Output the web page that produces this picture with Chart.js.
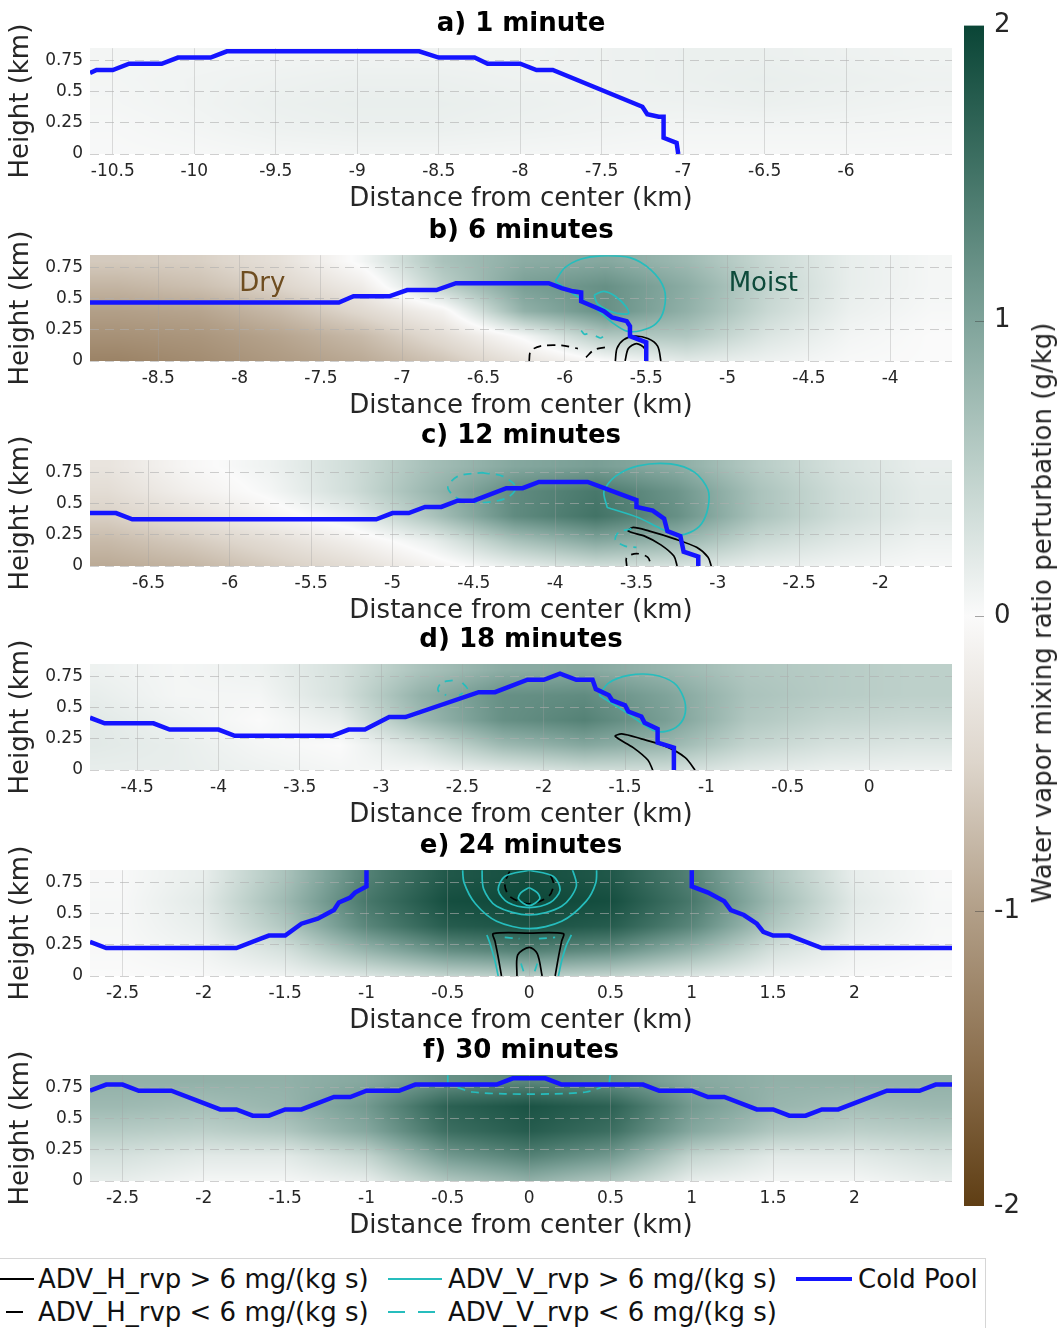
<!DOCTYPE html>
<html><head><meta charset="utf-8">
<script src="https://cdn.jsdelivr.net/npm/chart.js@4/dist/chart.umd.min.js"></script>
<style>
body{margin:0;background:#fff;width:1059px;height:1328px;overflow:hidden;position:relative;font-family:"DejaVu Sans";}
canvas{position:absolute;}
#cbtitle{position:absolute;left:1042px;top:613px;transform:translate(-50%,-50%) rotate(-90deg);white-space:nowrap;font-size:26px;color:#262626;}
#legend{position:absolute;left:-30px;top:1258px;width:1014px;height:90px;border:1px solid #d6d6d6;background:#fff;}
.it{position:absolute;font-size:26px;white-space:nowrap;line-height:30px;color:#111;}
.ln{position:absolute;}
</style></head>
<body>
<canvas id="p0"></canvas><canvas id="p1"></canvas><canvas id="p2"></canvas>
<canvas id="p3"></canvas><canvas id="p4"></canvas><canvas id="p5"></canvas>
<canvas id="cb"></canvas>
<div id="cbtitle">Water vapor mixing ratio perturbation (g/kg)</div>
<div id="legend">
  <svg class="ln" style="left:9px;top:5px" width="54" height="30"><line x1="0" y1="15" x2="54" y2="15" stroke="#000" stroke-width="2"/></svg>
  <div class="it" style="left:67px;top:5px">ADV_H_rvp &gt; 6 mg/(kg s)</div>
  <svg class="ln" style="left:417px;top:5px" width="54" height="30"><line x1="0" y1="15" x2="54" y2="15" stroke="#26bdbd" stroke-width="2"/></svg>
  <div class="it" style="left:477px;top:5px">ADV_V_rvp &gt; 6 mg/(kg s)</div>
  <svg class="ln" style="left:825px;top:5px" width="56" height="30"><line x1="0" y1="15" x2="56" y2="15" stroke="#1414ff" stroke-width="4"/></svg>
  <div class="it" style="left:887px;top:5px">Cold Pool</div>
  <svg class="ln" style="left:5px;top:38px" width="54" height="30"><line x1="0" y1="15" x2="54" y2="15" stroke="#000" stroke-width="2" stroke-dasharray="17,13"/></svg>
  <div class="it" style="left:67px;top:38px">ADV_H_rvp &lt; 6 mg/(kg s)</div>
  <svg class="ln" style="left:417px;top:38px" width="54" height="30"><line x1="0" y1="15" x2="54" y2="15" stroke="#26bdbd" stroke-width="2" stroke-dasharray="17,13"/></svg>
  <div class="it" style="left:477px;top:38px">ADV_V_rvp &lt; 6 mg/(kg s)</div>
</div>
<script>
// ---------------- DATA ----------------
const panelTitles = ['a) 1 minute','b) 6 minutes','c) 12 minutes','d) 18 minutes','e) 24 minutes','f) 30 minutes'];
const xTitle = 'Distance from center (km)';
const yTitle = 'Height (km)';
const cbTitleText = 'Water vapor mixing ratio perturbation (g/kg)';

const xRangeA = [-10.64, -5.35];
const xRangeB = [-8.92, -3.62];
const xRangeC = [-6.86, -1.56];
const xRangeD = [-4.79, 0.51];
const xRangeE = [-2.70, 2.60];
const xRangeF = [-2.70, 2.60];
const yRange = [0, 0.85];

const xTicksA = [-10.5,-10,-9.5,-9,-8.5,-8,-7.5,-7,-6.5,-6];
const xTicksB = [-8.5,-8,-7.5,-7,-6.5,-6,-5.5,-5,-4.5,-4];
const xTicksC = [-6.5,-6,-5.5,-5,-4.5,-4,-3.5,-3,-2.5,-2];
const xTicksD = [-4.5,-4,-3.5,-3,-2.5,-2,-1.5,-1,-0.5,0];
const xTicksE = [-2.5,-2,-1.5,-1,-0.5,0,0.5,1,1.5,2];
const xTicksF = [-2.5,-2,-1.5,-1,-0.5,0,0.5,1,1.5,2];
const yTicks = [0,0.25,0.5,0.75];
const cbTicks = [-2,-1,0,1,2];

// colormap of water vapor perturbation (g/kg)
const cmapValues = [-2,-1.5,-1,-0.5,0,0.5,1,1.5,2];
const cmapColors = ['#5f3e14','#8c704f','#b29f88','#ddd5cb','#fafafa','#bdd0ca','#7fa39a','#427366','#0a4536'];

// heat-map grids: heights (rows, top to bottom) and distances (columns)
const heatZ = [0.8,0.6,0.4,0.2,0.0];
const heatXA = [-10.5,-10,-9.5,-9,-8.5,-8,-7.5,-7,-6.5,-6,-5.5];
const heatXB = [-8.75,-8.25,-7.75,-7.25,-6.75,-6.25,-5.75,-5.25,-4.75,-4.25,-3.75];
const heatXC = [-6.75,-6.25,-5.75,-5.25,-4.75,-4.25,-3.75,-3.25,-2.75,-2.25,-1.75];
const heatXD = [-4.75,-4.25,-3.75,-3.25,-2.75,-2.25,-1.75,-1.25,-0.75,-0.25,0.25];
const heatXE = [-2.5,-2,-1.5,-1,-0.5,0,0.5,1,1.5,2,2.5];
const heatXF = [-2.5,-2,-1.5,-1,-0.5,0,0.5,1,1.5,2,2.5];

const heatA = [
  [0.06,0.06,0.07,0.08,0.08,0.08,0.10,0.12,0.12,0.10,0.08],
  [0.06,0.08,0.10,0.12,0.12,0.10,0.10,0.12,0.14,0.12,0.10],
  [0.05,0.08,0.12,0.14,0.14,0.12,0.10,0.10,0.12,0.10,0.08],
  [0.03,0.06,0.10,0.12,0.12,0.10,0.08,0.06,0.06,0.06,0.05],
  [0.02,0.03,0.05,0.06,0.06,0.05,0.04,0.03,0.03,0.03,0.03]
];
const heatB = [
  [-0.6,-0.55,-0.35,0.05,0.65,0.9,0.95,0.75,0.4,0.15,0.05],
  [-0.8,-0.7,-0.5,-0.2,0.5,1.05,1.2,0.9,0.45,0.15,0.05],
  [-1.0,-0.95,-0.75,-0.45,-0.1,0.85,1.2,0.85,0.4,0.12,0.03],
  [-1.15,-1.1,-0.95,-0.75,-0.4,0.05,0.6,0.6,0.25,0.06,0.0],
  [-1.3,-1.2,-1.05,-0.9,-0.65,-0.3,0.0,0.2,0.1,0.02,0.0]
];
const heatC = [
  [-0.3,-0.05,0.1,0.35,0.7,0.95,1.05,0.9,0.55,0.3,0.15],
  [-0.4,-0.15,0.05,0.35,0.8,1.25,1.45,1.15,0.65,0.35,0.18],
  [-0.55,-0.35,-0.1,0.15,0.65,1.25,1.5,1.2,0.65,0.35,0.18],
  [-0.75,-0.6,-0.4,-0.15,0.15,0.65,0.95,0.8,0.4,0.22,0.1],
  [-0.9,-0.8,-0.6,-0.4,-0.1,0.15,0.35,0.3,0.15,0.08,0.03]
];
const heatD = [
  [0.1,0.05,0.1,0.3,0.65,0.9,0.95,0.8,0.6,0.55,0.5],
  [0.15,0.05,0.05,0.3,0.85,1.2,1.25,1.0,0.65,0.55,0.5],
  [0.2,0.1,0.0,0.15,0.75,1.2,1.35,1.05,0.6,0.45,0.4],
  [0.2,0.15,0.05,0.0,0.3,0.75,0.95,0.8,0.45,0.3,0.25],
  [0.15,0.15,0.1,0.05,0.05,0.2,0.35,0.35,0.2,0.12,0.1]
];
const heatE = [
  [0.02,0.15,0.65,1.35,1.8,1.9,1.8,1.35,0.65,0.15,0.02],
  [0.03,0.2,0.75,1.45,1.9,1.97,1.9,1.45,0.75,0.2,0.03],
  [0.03,0.15,0.6,1.3,1.75,1.85,1.75,1.3,0.6,0.15,0.03],
  [0.02,0.08,0.3,0.8,1.2,1.35,1.2,0.8,0.3,0.08,0.02],
  [0.0,0.02,0.08,0.25,0.45,0.55,0.45,0.25,0.08,0.02,0.0]
];
const heatF = [
  [0.85,0.85,0.85,0.95,1.2,1.3,1.2,0.95,0.85,0.85,0.85],
  [0.75,0.7,0.8,1.1,1.7,1.85,1.7,1.1,0.8,0.7,0.75],
  [0.55,0.5,0.6,0.95,1.55,1.75,1.55,0.95,0.6,0.5,0.55],
  [0.3,0.2,0.2,0.45,1.1,1.35,1.1,0.45,0.2,0.2,0.3],
  [0.15,0.05,0.05,0.15,0.6,0.85,0.6,0.15,0.05,0.05,0.15]
];

// cold pool boundary [distance km, height km]
const coldA = [[-10.64,0.65],[-10.6,0.675],[-10.5,0.675],[-10.4,0.725],[-10.2,0.725],[-10.1,0.775],[-9.9,0.775],[-9.8,0.825],[-8.62,0.825],[-8.5,0.775],[-8.28,0.775],[-8.2,0.725],[-8.0,0.725],[-7.9,0.675],[-7.8,0.675],[-7.25,0.38],[-7.22,0.32],[-7.15,0.3],[-7.12,0.3],[-7.12,0.13],[-7.04,0.09],[-7.03,0]];
const coldB = [[-8.92,0.47],[-7.39,0.47],[-7.3,0.52],[-7.08,0.52],[-6.97,0.57],[-6.79,0.57],[-6.67,0.625],[-6.1,0.625],[-6.02,0.585],[-5.95,0.56],[-5.9,0.55],[-5.9,0.48],[-5.81,0.43],[-5.76,0.4],[-5.71,0.35],[-5.62,0.32],[-5.6,0.28],[-5.6,0.2],[-5.5,0.15],[-5.5,0]];
const coldC = [[-6.86,0.425],[-6.7,0.425],[-6.6,0.375],[-5.1,0.375],[-5.0,0.425],[-4.9,0.425],[-4.8,0.475],[-4.7,0.475],[-4.6,0.525],[-4.5,0.525],[-4.3,0.625],[-4.2,0.625],[-4.1,0.675],[-3.8,0.675],[-3.5,0.53],[-3.5,0.475],[-3.4,0.445],[-3.33,0.38],[-3.31,0.28],[-3.23,0.24],[-3.21,0.115],[-3.12,0.075],[-3.12,0]];
const coldD = [[-4.79,0.42],[-4.7,0.375],[-4.4,0.375],[-4.3,0.325],[-4.0,0.325],[-3.9,0.275],[-3.3,0.275],[-3.2,0.325],[-3.1,0.325],[-2.95,0.425],[-2.85,0.425],[-2.4,0.625],[-2.3,0.625],[-2.1,0.725],[-2.0,0.725],[-1.9,0.775],[-1.8,0.725],[-1.7,0.725],[-1.68,0.65],[-1.6,0.6],[-1.58,0.56],[-1.5,0.52],[-1.48,0.47],[-1.4,0.43],[-1.38,0.38],[-1.3,0.33],[-1.3,0.22],[-1.2,0.18],[-1.2,0]];
const coldELeft = [[-2.7,0.275],[-2.6,0.225],[-1.8,0.225],[-1.65,0.3],[-1.6,0.325],[-1.5,0.325],[-1.4,0.42],[-1.3,0.46],[-1.2,0.53],[-1.17,0.59],[-1.1,0.63],[-1.07,0.67],[-1.0,0.72],[-1.0,0.9]];
const coldERight = [[1.0,0.9],[1.0,0.72],[1.1,0.67],[1.2,0.6],[1.24,0.53],[1.32,0.49],[1.4,0.42],[1.44,0.355],[1.5,0.325],[1.6,0.325],[1.8,0.225],[2.6,0.225]];
const coldF = [[-2.7,0.725],[-2.6,0.775],[-2.5,0.775],[-2.4,0.725],[-2.2,0.725],[-1.9,0.575],[-1.8,0.575],[-1.7,0.525],[-1.6,0.525],[-1.5,0.575],[-1.4,0.575],[-1.2,0.675],[-1.1,0.675],[-1.0,0.725],[-0.8,0.725],[-0.7,0.775],[-0.2,0.775],[-0.1,0.825],[0.1,0.825],[0.2,0.775],[0.7,0.775],[0.8,0.725],[1.0,0.725],[1.1,0.675],[1.2,0.675],[1.4,0.575],[1.5,0.575],[1.6,0.525],[1.7,0.525],[1.8,0.575],[1.9,0.575],[2.2,0.725],[2.4,0.725],[2.5,0.775],[2.6,0.775]];

// advection contours: H = horizontal (black), V = vertical (cyan); Pos = > 6, Neg = < 6 mg/(kg s)
const vPosB = [
  [[-6.06,0.64],[-6.0,0.75],[-5.9,0.82],[-5.78,0.845],[-5.6,0.83],[-5.47,0.73],[-5.39,0.58],[-5.39,0.42],[-5.44,0.3],[-5.53,0.245],[-5.62,0.24],[-5.7,0.3],[-5.83,0.44],[-5.95,0.54],[-6.06,0.64]],
  [[-5.82,0.53],[-5.76,0.56],[-5.69,0.52],[-5.62,0.43],[-5.61,0.38],[-5.7,0.39],[-5.8,0.46],[-5.82,0.53]]
];
const vNegB = [
  [[-5.9,0.245],[-5.88,0.215],[-5.85,0.225]],
  [[-5.81,0.2],[-5.78,0.185],[-5.75,0.215]]
];
const hPosB = [
  [[-5.69,0],[-5.68,0.1],[-5.64,0.17],[-5.57,0.2],[-5.49,0.18],[-5.43,0.12],[-5.41,0]],
  [[-5.63,0],[-5.61,0.1],[-5.56,0.14],[-5.51,0.1],[-5.5,0]]
];
const hNegB = [
  [[-6.22,0.0],[-6.21,0.08],[-6.15,0.12],[-6.02,0.125],[-5.92,0.1]],
  [[-5.87,0.03],[-5.82,0.09],[-5.75,0.11]]
];
const vPosC = [
  [[-3.68,0.47],[-3.7,0.6],[-3.63,0.72],[-3.49,0.805],[-3.29,0.82],[-3.14,0.75],[-3.06,0.61],[-3.06,0.47],[-3.1,0.34],[-3.17,0.27],[-3.25,0.25],[-3.35,0.3],[-3.49,0.39],[-3.68,0.47]]
];
const vNegC = [
  [[-4.45,0.75],[-4.32,0.72],[-4.24,0.63],[-4.3,0.545],[-4.45,0.51],[-4.6,0.545],[-4.66,0.63],[-4.6,0.72],[-4.45,0.75]],
  [[-3.53,0.3],[-3.61,0.27],[-3.63,0.21],[-3.57,0.16],[-3.5,0.15]]
];
const hPosC = [
  [[-3.25,0],[-3.27,0.08],[-3.35,0.17],[-3.45,0.24],[-3.55,0.28],[-3.52,0.31],[-3.42,0.28],[-3.27,0.22],[-3.13,0.15],[-3.06,0.07],[-3.04,0]]
];
const hNegC = [
  [[-3.56,0],[-3.56,0.07],[-3.5,0.1],[-3.43,0.07],[-3.41,0]]
];
const vPosD = [
  [[-1.66,0.6],[-1.6,0.7],[-1.48,0.76],[-1.33,0.765],[-1.2,0.7],[-1.14,0.58],[-1.13,0.46],[-1.17,0.36],[-1.25,0.31],[-1.33,0.32],[-1.49,0.46],[-1.66,0.6]]
];
const vNegD = [
  [[-2.56,0.72],[-2.63,0.7],[-2.65,0.64],[-2.6,0.6]],
  [[-2.5,0.7],[-2.47,0.65],[-2.52,0.6]]
];
const hPosD = [
  [[-1.33,0],[-1.36,0.08],[-1.45,0.18],[-1.56,0.27],[-1.52,0.29],[-1.4,0.25],[-1.25,0.19],[-1.13,0.1],[-1.07,0]]
];
const hNegD = [];
const vPosE = [
  [[-0.41,0.88],[-0.4,0.75],[-0.33,0.58],[-0.2,0.44],[0,0.38],[0.2,0.44],[0.35,0.6],[0.41,0.75],[0.415,0.88]],
  [[-0.29,0.88],[-0.28,0.7],[-0.2,0.56],[0,0.49],[0.2,0.56],[0.29,0.72],[0.26,0.88]],
  [[0,0.85],[-0.15,0.8],[-0.19,0.69],[-0.13,0.59],[0,0.55],[0.13,0.59],[0.19,0.69],[0.15,0.8],[0,0.85]],
  [[0,0.71],[-0.05,0.67],[-0.065,0.62],[0,0.565],[0.065,0.62],[0.05,0.67],[0,0.71]],
  [[-0.26,0.33],[-0.24,0.26],[-0.21,0.12],[-0.19,0]],
  [[0.26,0.33],[0.23,0.25],[0.2,0.12],[0.18,0]]
];
const vNegE = [
  [[-0.15,0.31],[-0.06,0.3]],
  [[0.06,0.3],[0.16,0.31]],
  [[-0.05,0.1],[-0.03,0.02]],
  [[0.05,0.1],[0.03,0.02]]
];
const hPosE = [
  [[-0.17,0],[-0.19,0.15],[-0.21,0.28],[-0.22,0.34],[0,0.345],[0.21,0.34],[0.2,0.28],[0.18,0.15],[0.16,0]],
  [[-0.075,0],[-0.07,0.17],[0,0.23],[0.05,0.18],[0.08,0]]
];
const hNegE = [
  [[-0.12,0.84],[-0.15,0.74],[-0.12,0.64],[0,0.58],[0.12,0.64],[0.15,0.74],[0.12,0.84]]
];
const vPosF = [
  [[-0.5,0.87],[-0.5,0.76]],
  [[0.5,0.87],[0.49,0.76]]
];
const vNegF = [
  [[-0.44,0.75],[-0.35,0.715],[-0.15,0.7],[0.15,0.7],[0.35,0.715],[0.44,0.75]]
];

// annotations in panel b
const notesB = [
  {text:'Dry', x:-7.86, z:0.62, color:'#6e4d20'},
  {text:'Moist', x:-4.78, z:0.62, color:'#0d4a3a'}
];

// ---------------- STYLE / LAYOUT ----------------
const FONT = 'DejaVu Sans';
const COLD = '#1414ff', CYAN = '#26bdbd', BLACK = '#000000';
const areaTops = [48, 255, 460, 664, 870, 1075];

Chart.defaults.font.family = FONT;

function hexRGB(h){return [parseInt(h.slice(1,3),16),parseInt(h.slice(3,5),16),parseInt(h.slice(5,7),16)];}
const cmapRGB = cmapColors.map(hexRGB);
function colorFor(v){
  const n = cmapValues.length;
  if (v <= cmapValues[0]) return cmapRGB[0];
  if (v >= cmapValues[n-1]) return cmapRGB[n-1];
  for (let i=0;i<n-1;i++){
    if (v <= cmapValues[i+1]){
      const t=(v-cmapValues[i])/(cmapValues[i+1]-cmapValues[i]);
      const a=cmapRGB[i], b=cmapRGB[i+1];
      return [a[0]+(b[0]-a[0])*t, a[1]+(b[1]-a[1])*t, a[2]+(b[2]-a[2])*t];
    }
  }
}
function locate(arr, v){
  const n=arr.length;
  if (v<=arr[0]) return [0,0];
  if (v>=arr[n-1]) return [n-2,1];
  for (let i=0;i<n-1;i++) if (v<=arr[i+1]) return [i,(v-arr[i])/(arr[i+1]-arr[i])];
  return [n-2,1];
}

const heatPlugin = {
  id:'heat',
  beforeDraw(chart, args, opts){
    if (!opts || !opts.values) return;
    const ca = chart.chartArea;
    const x0=Math.round(ca.left), y0=Math.round(ca.top);
    const w=Math.round(ca.right)-x0, h=Math.round(ca.bottom)-y0;
    const xs=chart.scales.x, ys=chart.scales.y;
    const zAsc = opts.z.slice().reverse();
    const rows = opts.values.slice().reverse();
    const img = chart.ctx.createImageData(w,h);
    const xi=[];
    for (let px=0;px<w;px++) xi.push(locate(opts.x, xs.getValueForPixel(x0+px+0.5)));
    for (let py=0;py<h;py++){
      const [j,tz]=locate(zAsc, ys.getValueForPixel(y0+py+0.5));
      const r0=rows[j], r1=rows[j+1];
      for (let px=0;px<w;px++){
        const [i,tx]=xi[px];
        const v=(r0[i]*(1-tx)+r0[i+1]*tx)*(1-tz)+(r1[i]*(1-tx)+r1[i+1]*tx)*tz;
        const c=colorFor(v); const k=(py*w+px)*4;
        img.data[k]=c[0]; img.data[k+1]=c[1]; img.data[k+2]=c[2]; img.data[k+3]=255;
      }
    }
    chart.ctx.putImageData(img, x0, y0);
  }
};
const notePlugin = {
  id:'notes',
  afterDatasetsDraw(chart, args, opts){
    if (!opts || !opts.items) return;
    const ctx=chart.ctx; ctx.save();
    ctx.font='26px "'+FONT+'"'; ctx.textAlign='center'; ctx.textBaseline='middle';
    for (const it of opts.items){
      ctx.fillStyle=it.color;
      ctx.fillText(it.text, chart.scales.x.getPixelForValue(it.x), chart.scales.y.getPixelForValue(it.z));
    }
    ctx.restore();
  }
};

function lineDs(pts, color, width, dash, tension){
  return {data: pts.map(p=>({x:p[0], y:p[1]})), borderColor:color, borderWidth:width,
    borderDash:dash, pointRadius:0, tension:tension, fill:false, showLine:true};
}

const panels = [
  {title:panelTitles[0], xr:xRangeA, xt:xTicksA, hx:heatXA, hv:heatA, cold:[coldA], vPos:[], vNeg:[], hPos:[], hNeg:[], notes:[]},
  {title:panelTitles[1], xr:xRangeB, xt:xTicksB, hx:heatXB, hv:heatB, cold:[coldB], vPos:vPosB, vNeg:vNegB, hPos:hPosB, hNeg:hNegB, notes:notesB},
  {title:panelTitles[2], xr:xRangeC, xt:xTicksC, hx:heatXC, hv:heatC, cold:[coldC], vPos:vPosC, vNeg:vNegC, hPos:hPosC, hNeg:hNegC, notes:[]},
  {title:panelTitles[3], xr:xRangeD, xt:xTicksD, hx:heatXD, hv:heatD, cold:[coldD], vPos:vPosD, vNeg:vNegD, hPos:hPosD, hNeg:hNegD, notes:[]},
  {title:panelTitles[4], xr:xRangeE, xt:xTicksE, hx:heatXE, hv:heatE, cold:[coldELeft, coldERight], vPos:vPosE, vNeg:vNegE, hPos:hPosE, hNeg:hNegE, notes:[]},
  {title:panelTitles[5], xr:xRangeF, xt:xTicksF, hx:heatXF, hv:heatF, cold:[coldF], vPos:vPosF, vNeg:vNegF, hPos:[], hNeg:[], notes:[]}
];

const CW=960, CH=213;
panels.forEach((p, idx)=>{
  const cv=document.getElementById('p'+idx);
  cv.width=CW; cv.height=CH;
  cv.style.left='0px'; cv.style.top=(areaTops[idx]-45)+'px';
  cv.style.width=CW+'px'; cv.style.height=CH+'px';
  const datasets=[];
  p.cold.forEach(c=>datasets.push(lineDs(c, COLD, 4.5, [], 0)));
  p.vPos.forEach(c=>datasets.push(lineDs(c, CYAN, 1.7, [], 0.3)));
  p.vNeg.forEach(c=>datasets.push(lineDs(c, CYAN, 1.7, [8,6], 0.3)));
  p.hPos.forEach(c=>datasets.push(lineDs(c, BLACK, 1.7, [], 0.3)));
  p.hNeg.forEach(c=>datasets.push(lineDs(c, BLACK, 1.7, [8,6], 0.3)));
  new Chart(cv, {
    type:'line',
    data:{datasets},
    plugins:[heatPlugin, notePlugin],
    options:{
      responsive:false, animation:false, devicePixelRatio:1, events:[],
      layout:{padding:{left:0, right:CW-952, top:0, bottom:0}},
      plugins:{
        legend:{display:false}, tooltip:{enabled:false},
        title:{display:true, text:p.title, fullSize:false, color:'#000',
          font:{family:FONT, size:26, weight:'bold'}, padding:{top:6, bottom:8}},
        heat:{x:p.hx, z:heatZ, values:p.hv},
        notes:{items:p.notes}
      },
      scales:{
        x:{type:'linear', min:p.xr[0], max:p.xr[1],
          afterBuildTicks:s=>{ s.ticks=p.xt.map(v=>({value:v})); },
          afterFit:s=>{ s.height=62; },
          ticks:{font:{family:FONT, size:17}, color:'#262626', padding:7, maxRotation:0, autoSkip:false, callback:v=>String(v)},
          grid:{color:'rgba(160,160,160,0.35)', lineWidth:1, drawTicks:false},
          border:{display:false},
          title:{display:true, text:xTitle, color:'#262626', font:{family:FONT, size:26}, padding:{top:0, bottom:1}}
        },
        y:{type:'linear', min:yRange[0], max:yRange[1],
          afterBuildTicks:s=>{ s.ticks=yTicks.map(v=>({value:v})); },
          afterFit:s=>{ s.width=90; },
          ticks:{font:{family:FONT, size:17}, color:'#262626', padding:7, autoSkip:false, callback:v=>String(v)},
          grid:{color:'rgba(175,175,175,0.6)', lineWidth:1, drawTicks:false},
          border:{display:false, dash:[9,6]},
          title:{display:true, text:yTitle, color:'#262626', font:{family:FONT, size:26}, padding:{top:6, bottom:0}}
        }
      }
    }
  });
});

// ---------------- COLORBAR ----------------
const cbPlugin = {
  id:'cbar',
  beforeDraw(chart){
    const ctx=chart.ctx, ca=chart.chartArea, y=chart.scales.y;
    const yb=y.getPixelForValue(cmapValues[0]), yt=y.getPixelForValue(cmapValues[cmapValues.length-1]);
    const g=ctx.createLinearGradient(0,yb,0,yt);
    const lo=cmapValues[0], hi=cmapValues[cmapValues.length-1];
    cmapValues.forEach((v,i)=>g.addColorStop((v-lo)/(hi-lo), cmapColors[i]));
    ctx.save(); ctx.fillStyle=g; ctx.fillRect(ca.left, ca.top, ca.right-ca.left, ca.bottom-ca.top); ctx.restore();
  },
  afterDraw(chart){
    const ctx=chart.ctx, ca=chart.chartArea, y=chart.scales.y;
    ctx.save(); ctx.strokeStyle='rgba(60,60,60,0.45)'; ctx.lineWidth=1;
    cbTicks.forEach(v=>{
      if (v===cbTicks[0] || v===cbTicks[cbTicks.length-1]) return;
      const py=Math.round(y.getPixelForValue(v))+0.5;
      ctx.beginPath(); ctx.moveTo(ca.right-9, py); ctx.lineTo(ca.right, py); ctx.stroke();
    });
    ctx.restore();
  }
};
(function(){
  const cv=document.getElementById('cb');
  const W=110, H=1240;
  cv.width=W; cv.height=H; cv.style.left='940px'; cv.style.top='0px';
  cv.style.width=W+'px'; cv.style.height=H+'px';
  new Chart(cv, {
    type:'line',
    data:{datasets:[{data:[]}]},
    plugins:[cbPlugin],
    options:{
      responsive:false, animation:false, devicePixelRatio:1, events:[],
      layout:{padding:{left:24, right:0, top:22, bottom:H-1206}},
      plugins:{legend:{display:false}, tooltip:{enabled:false}},
      scales:{
        x:{type:'linear', display:false, min:0, max:1},
        y:{type:'linear', position:'right', min:cbTicks[0], max:cbTicks[cbTicks.length-1],
          afterBuildTicks:s=>{ s.ticks=cbTicks.map(v=>({value:v})); },
          afterFit:s=>{ s.width=W-24-20; },
          ticks:{font:{family:FONT, size:26}, color:'#262626', padding:10, autoSkip:false, callback:v=>String(v)},
          grid:{display:false, drawTicks:false},
          border:{display:false}
        }
      }
    }
  });
})();
document.getElementById('cbtitle').textContent = cbTitleText;
</script>
</body></html>
